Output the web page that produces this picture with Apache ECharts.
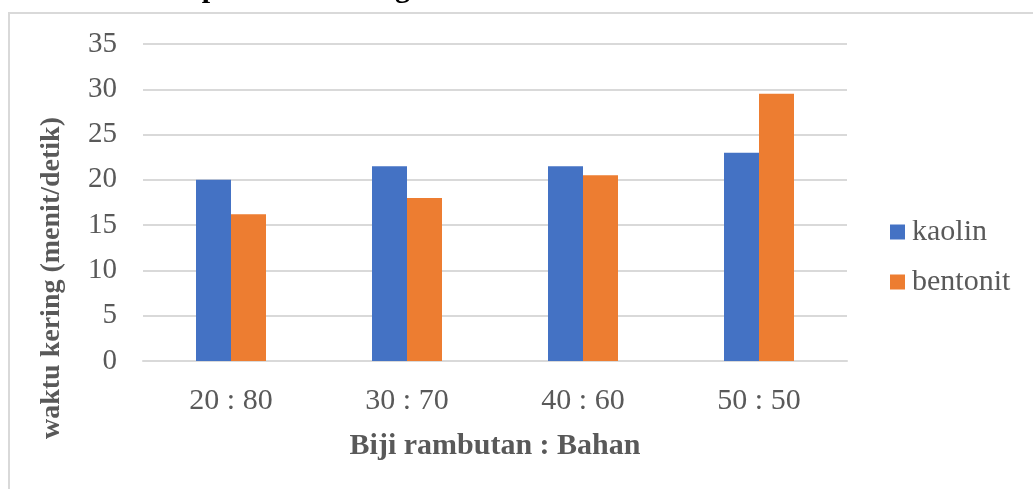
<!DOCTYPE html>
<html>
<head>
<meta charset="utf-8">
<script src="https://cdn.jsdelivr.net/npm/echarts@6/dist/echarts.min.js"></script>
<style>
  html, body { margin: 0; padding: 0; background: #fff; }
  #chart { width: 1033px; height: 489px; }
</style>
</head>
<body>
<div id="chart"></div>
<script>
// Ratio of rambutan seed to binder material
const categories = ['20 : 80', '30 : 70', '40 : 60', '50 : 50'];
// Drying time per binder (menit/detik)
const kaolin = [20, 21.5, 21.5, 23];
const bentonit = [16.2, 18, 20.5, 29.5];
const yTicks = { min: 0, max: 35, interval: 5 };

const serif = '"Liberation Serif", "Times New Roman", serif';
const textGrey = '#595959';
const lineGrey = '#d9d9d9';

const chart = echarts.init(document.getElementById('chart'), null, { renderer: 'canvas' });
chart.setOption({
  animation: false,
  backgroundColor: '#fff',
  grid: { left: 143, right: 186, top: 44, bottom: 128, containLabel: false },
  graphic: [
    {
      type: 'rect', silent: true, z: -1,
      shape: { x: 9, y: 13, width: 1060, height: 520 },
      style: { fill: 'none', stroke: lineGrey, lineWidth: 2 }
    },
    {
      type: 'text', silent: true,
      style: {
        text: 'terhadap Waktu Kering', x: 410, y: 4,
        align: 'right', verticalAlign: 'bottom',
        font: 'bold 30px ' + serif, fill: '#000'
      }
    },
    {
      type: 'text', silent: true,
      x: 52, y: 278, rotation: Math.PI / 2,
      style: {
        text: 'waktu kering (menit/detik)',
        align: 'center', verticalAlign: 'middle',
        font: 'bold 28px ' + serif, fill: textGrey
      }
    }
  ],
  legend: {
    orient: 'vertical',
    left: 885, top: 212,
    itemWidth: 15, itemHeight: 15, itemGap: 20,
    icon: 'rect',
    textStyle: { fontFamily: serif, fontSize: 30, color: textGrey, padding: [0, 0, 0, 2] },
    data: ['kaolin', 'bentonit']
  },
  xAxis: {
    type: 'category',
    data: categories,
    name: 'Biji rambutan : Bahan',
    nameLocation: 'middle',
    nameGap: 70,
    nameTextStyle: { fontFamily: serif, fontSize: 30, fontWeight: 'bold', color: textGrey },
    axisLine: { lineStyle: { color: lineGrey, width: 2 } },
    axisTick: { show: false },
    axisLabel: { fontFamily: serif, fontSize: 30, color: textGrey, margin: 25 }
  },
  yAxis: {
    type: 'value',
    min: yTicks.min, max: yTicks.max, interval: yTicks.interval,
    axisLine: { show: false },
    axisTick: { show: false },
    splitLine: { lineStyle: { color: lineGrey, width: 2 } },
    axisLabel: { fontFamily: serif, fontSize: 29, color: textGrey, margin: 26 }
  },
  series: [
    {
      name: 'kaolin', type: 'bar', data: kaolin,
      barWidth: 35, barGap: '0%',
      itemStyle: { color: '#4472C4' }
    },
    {
      name: 'bentonit', type: 'bar', data: bentonit,
      barWidth: 35, barGap: '0%',
      itemStyle: { color: '#ED7D31' }
    }
  ]
});
</script>
</body>
</html>
